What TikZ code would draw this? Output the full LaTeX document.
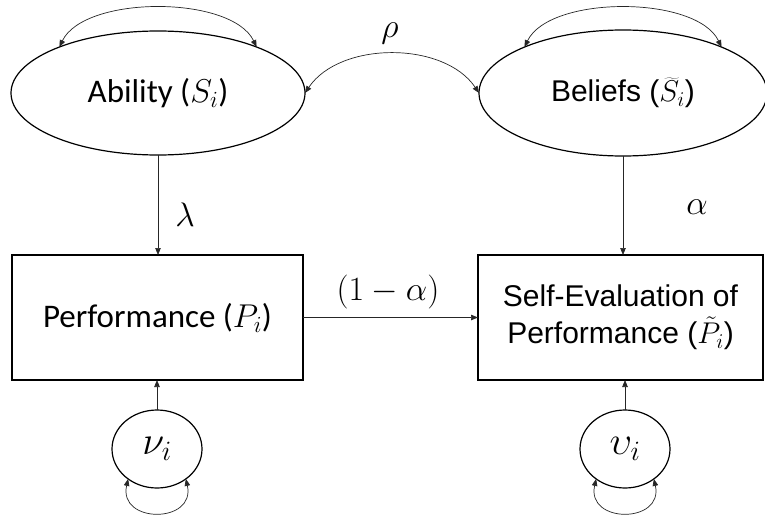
\RequirePackage{fix-cm}
\documentclass[tikz,border=0pt]{standalone}
\usepackage{fontspec}
\newfontfamily\calfont{Carlito}
\newfontfamily\arialfont{Liberation Sans}
\usetikzlibrary{shapes.geometric,arrows.meta}
\begin{document}
\begin{tikzpicture}[x=1pt,y=-1pt,
  lat/.style={ellipse,draw,line width=1.2pt,inner sep=0pt,outer sep=0pt},
  obs/.style={rectangle,draw,line width=1.2pt,inner sep=0pt,outer sep=0pt},
  one/.style={line width=0.7pt,draw=black!85,-{Triangle[length=7pt,width=5.5pt]}},
  dbl/.style={line width=0.7pt,draw=black!85,{Triangle[length=7pt,width=5.5pt]}-{Triangle[length=7pt,width=5.5pt]}},
  cfont/.style={font=\calfont\fontsize{33}{40}\selectfont},
  afont/.style={font=\arialfont\fontsize{30}{37}\selectfont},
  lab/.style={font=\fontsize{34}{40}\selectfont,inner sep=0pt},
  blab/.style={font=\fontsize{40}{44}\selectfont,inner sep=0pt}
]
\useasboundingbox (0,0) rectangle (765,514);
\node[lat,cfont,minimum width=294pt,minimum height=124pt] (abil) at (158,93) {Ability ($S_i$)};
\node[lat,afont,minimum width=288pt,minimum height=126pt] (bel) at (623,93) {Beliefs ($\widetilde{S}_i$)};
\node[obs,cfont,minimum width=291pt,minimum height=125pt] (perf) at (157.5,317.5) {Performance ($P_i$)};
\node[obs,afont,align=center,minimum width=285pt,minimum height=125pt] (self) at (620.5,317.5) {Self-Evaluation of\\Performance ($\tilde{P}_i$)};
\node[lat,blab,minimum width=90pt,minimum height=78pt] (nu) at (157,449) {$\nu_i$};
\node[lat,blab,minimum width=90pt,minimum height=78pt] (ups) at (625,449) {$\upsilon_i$};
\node[lab] (rho) at (390,33) {$\rho$};
\node[lab] (lam) at (185,215) {$\lambda$};
\node[lab] (alp) at (697,207) {$\alpha$};
\node[lab] (oma) at (388,292) {$(1-\alpha)$};
\draw[dbl] (abil.155) .. controls +(25,-52) and +(-25,-52) .. (abil.25);
\draw[dbl] (bel.155) .. controls +(25,-52) and +(-25,-52) .. (bel.25);
\draw[dbl] (abil.east) .. controls +(35,-52) and +(-35,-52) .. (bel.west);
\draw[one] (abil.south) -- (abil.south |- perf.north);
\draw[one] (bel.south) -- (bel.south |- self.north);
\draw[one] (perf.east) -- (self.west);
\draw[one] (nu.north) -- (nu.north |- perf.south);
\draw[one] (ups.north) -- (ups.north |- self.south);
\draw[dbl] (nu.226) .. controls +(-10,45) and +(10,45) .. (nu.314);
\draw[dbl] (ups.226) .. controls +(-10,45) and +(10,45) .. (ups.314);
\end{tikzpicture}
\end{document}
